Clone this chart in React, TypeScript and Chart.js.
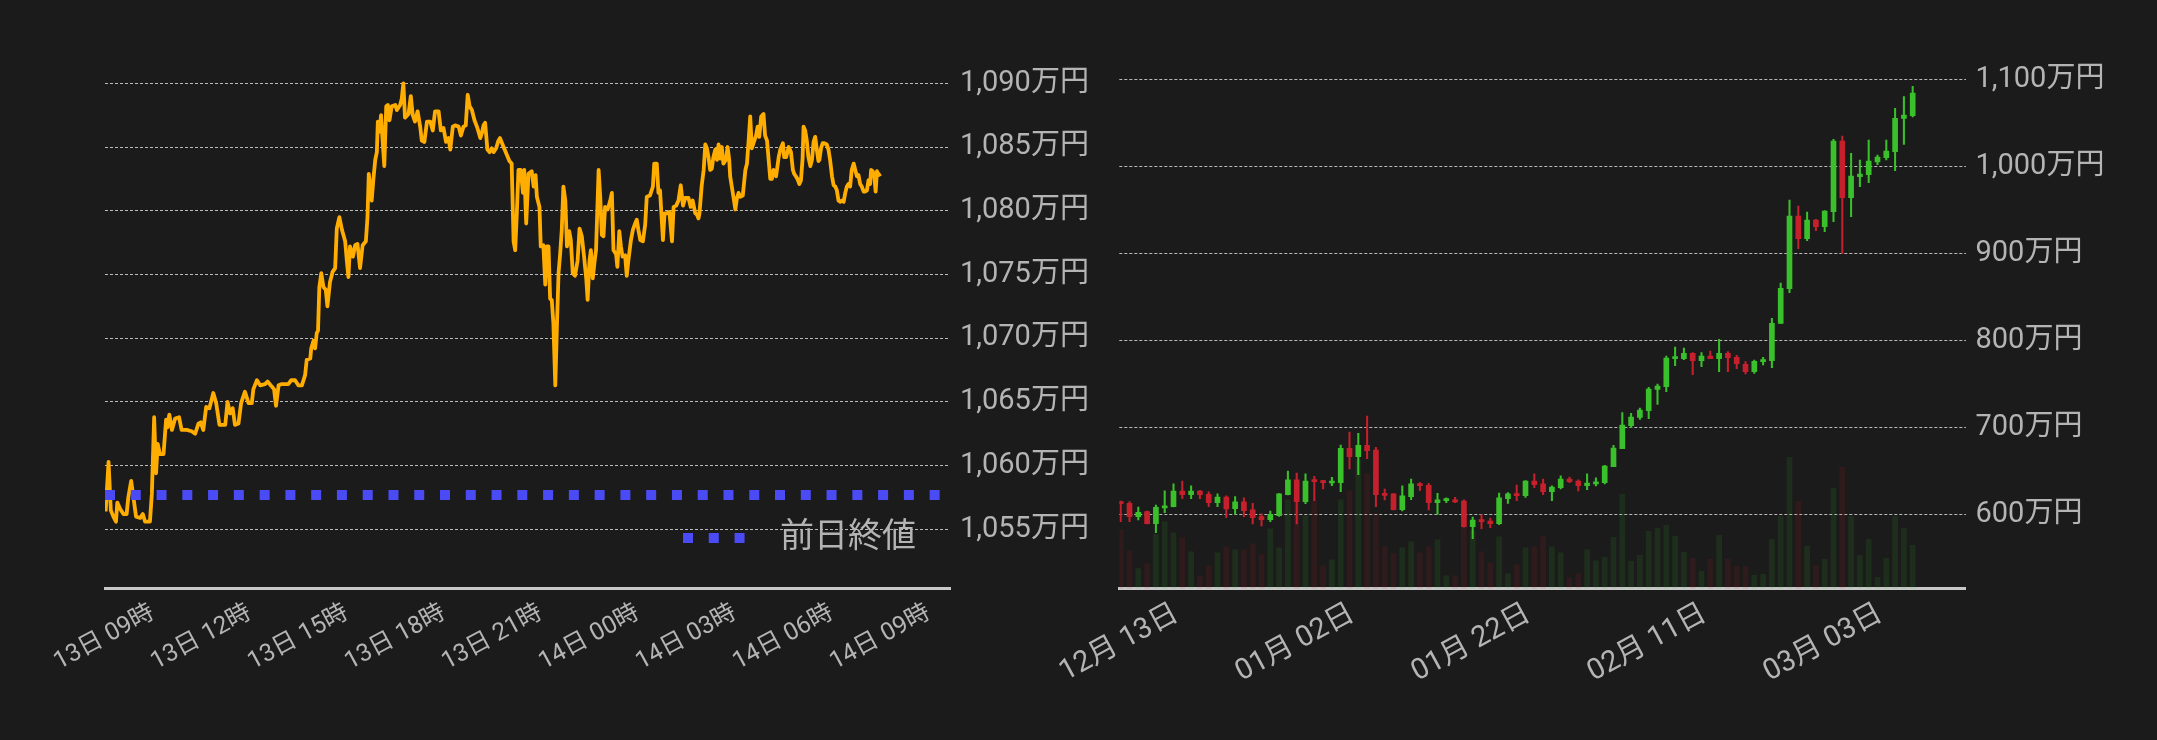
import React, { useEffect, useRef } from 'react';
import { Chart, registerables } from 'chart.js';

Chart.register(...registerables);

const FONT = 'Roboto, "Noto Sans CJK JP", sans-serif';
const TEXT_COLOR = '#b4b4b4';
const GRID_COLOR = 'rgba(215,215,215,0.85)';
const AXIS_COLOR = '#c8c8c8';
const BG = '#1b1b1b';
const ORANGE = '#ffad00';
const BLUE = '#4b4bf5';
const GREEN = 'rgb(58,192,42)';
const RED = 'rgb(198,32,44)';
const GREEN_VOL = 'rgba(58,192,42,0.12)';
const RED_VOL = 'rgba(198,32,44,0.12)';

// ---------- left chart: 24h price (hours counted from 13日 00時) ----------
const PRICE_HOURS = [
  8.00, 8.09, 8.16, 8.24, 8.32, 8.36, 8.45, 8.55, 8.65, 8.70, 8.79, 8.86, 8.94, 9.07, 9.15, 9.22, 9.37, 9.43, 9.50, 9.56,
  9.61, 9.68, 9.79, 9.87, 9.91, 9.97, 10.05, 10.15, 10.27, 10.35, 10.51, 10.66, 10.77, 10.87, 10.94, 11.02, 11.11, 11.21, 11.33, 11.42,
  11.52, 11.70, 11.77, 11.85, 11.93, 12.00, 12.11, 12.19, 12.31, 12.42, 12.52, 12.57, 12.68, 12.78, 12.93, 13.01, 13.14, 13.21, 13.27, 13.35,
  13.45, 13.65, 13.74, 13.86, 13.96, 14.07, 14.17, 14.22, 14.33, 14.36, 14.43, 14.48, 14.53, 14.57, 14.61, 14.67, 14.74, 14.81, 14.86, 14.94,
  15.02, 15.10, 15.15, 15.23, 15.31, 15.41, 15.46, 15.51, 15.56, 15.65, 15.72, 15.79, 15.87, 15.95, 16.05, 16.10, 16.14, 16.18, 16.23, 16.28,
  16.34, 16.39, 16.42, 16.47, 16.52, 16.57, 16.62, 16.68, 16.73, 16.78, 16.85, 16.96, 17.01, 17.11, 17.16, 17.21, 17.26, 17.37, 17.44, 17.50,
  17.57, 17.65, 17.73, 17.78, 17.86, 17.94, 18.04, 18.12, 18.19, 18.30, 18.37, 18.45, 18.53, 18.61, 18.66, 18.74, 18.81, 18.92, 18.99, 19.07,
  19.14, 19.20, 19.26, 19.33, 19.41, 19.50, 19.59, 19.64, 19.69, 19.74, 19.81, 19.88, 19.95, 20.00, 20.08, 20.15, 20.20, 20.31, 20.41, 20.49,
  20.56, 20.62, 20.67, 20.72, 20.77, 20.84, 20.91, 20.95, 21.01, 21.08, 21.18, 21.24, 21.30, 21.34, 21.42, 21.46, 21.54, 21.60, 21.65, 21.70,
  21.75, 21.80, 21.85, 21.91, 21.96, 22.01, 22.06, 22.11, 22.16, 22.22, 22.27, 22.34, 22.39, 22.45, 22.52, 22.60, 22.66, 22.73, 22.80, 22.87,
  22.91, 22.97, 23.01, 23.07, 23.12, 23.17, 23.25, 23.30, 23.35, 23.40, 23.45, 23.53, 23.61, 23.66, 23.71, 23.79, 23.83, 23.89, 23.94, 23.99,
  24.07, 24.12, 24.17, 24.25, 24.31, 24.38, 24.43, 24.48, 24.54, 24.62, 24.69, 24.74, 24.84, 24.93, 24.97, 25.05, 25.10, 25.15, 25.24, 25.29,
  25.36, 25.44, 25.52, 25.57, 25.65, 25.72, 25.79, 25.86, 25.93, 26.03, 26.10, 26.16, 26.24, 26.29, 26.34, 26.37, 26.44, 26.50, 26.55, 26.60,
  26.65, 26.70, 26.75, 26.80, 26.86, 26.91, 26.96, 27.01, 27.06, 27.11, 27.19, 27.24, 27.29, 27.32, 27.37, 27.42, 27.48, 27.53, 27.58, 27.63,
  27.71, 27.79, 27.84, 27.89, 27.94, 27.99, 28.04, 28.12, 28.17, 28.22, 28.28, 28.35, 28.40, 28.46, 28.51, 28.56, 28.61, 28.66, 28.74, 28.82,
  28.87, 28.95, 28.99, 29.05, 29.13, 29.20, 29.26, 29.30, 29.35, 29.40, 29.46, 29.51, 29.56, 29.59, 29.64, 29.69, 29.74, 29.80, 29.85, 29.90,
  29.95, 30.00, 30.05, 30.08, 30.13, 30.18, 30.23, 30.31, 30.36, 30.41, 30.47, 30.52, 30.57, 30.62, 30.67, 30.72, 30.78, 30.83, 30.88, 30.93,
  30.98, 31.03, 31.08, 31.14, 31.19, 31.24, 31.29, 31.34, 31.39, 31.45, 31.50, 31.55, 31.60, 31.65, 31.68, 31.73, 31.78, 31.82, 31.86, 31.91,
  31.98,
];
const PRICE_VALUES = [
  1056.4, 1060.3, 1056.5, 1056.0, 1055.6, 1057.1, 1056.6, 1056.2, 1056.2, 1057.5, 1058.8, 1057.5, 1056.0, 1055.9, 1056.2, 1055.6, 1055.6, 1057.8, 1063.8, 1059.4,
  1061.7, 1060.9, 1060.9, 1063.6, 1063.0, 1064.0, 1062.8, 1063.7, 1063.8, 1062.8, 1062.8, 1062.7, 1062.5, 1063.3, 1063.4, 1062.8, 1064.6, 1064.5, 1065.7, 1064.9,
  1063.2, 1063.2, 1065.0, 1064.1, 1064.5, 1063.2, 1063.3, 1064.9, 1065.8, 1064.9, 1064.9, 1066.0, 1066.7, 1066.3, 1066.4, 1066.6, 1066.2, 1066.0, 1064.7, 1066.3,
  1066.4, 1066.4, 1066.7, 1066.7, 1066.3, 1066.3, 1067.1, 1068.3, 1068.4, 1069.2, 1069.8, 1069.2, 1070.4, 1070.6, 1074.0, 1075.1, 1074.0, 1073.8, 1072.5, 1074.4,
  1075.2, 1075.5, 1078.6, 1079.5, 1078.5, 1077.6, 1076.1, 1074.8, 1077.2, 1076.4, 1077.3, 1077.4, 1075.5, 1077.3, 1077.6, 1079.5, 1082.9, 1081.9, 1080.8, 1082.4,
  1084.0, 1084.6, 1087.0, 1086.2, 1087.5, 1085.4, 1083.5, 1088.2, 1088.3, 1087.1, 1088.2, 1088.3, 1087.9, 1088.3, 1088.8, 1090.0, 1087.3, 1087.6, 1089.0, 1087.5,
  1087.0, 1087.8, 1086.6, 1085.5, 1085.4, 1087.0, 1087.0, 1086.3, 1087.8, 1087.8, 1086.3, 1086.5, 1085.4, 1085.7, 1084.8, 1086.6, 1086.7, 1086.6, 1085.9, 1086.6,
  1086.7, 1089.1, 1088.2, 1087.9, 1087.1, 1086.5, 1085.7, 1086.1, 1086.7, 1086.9, 1084.8, 1084.6, 1084.9, 1084.6, 1084.9, 1085.5, 1085.7, 1085.0, 1084.4, 1083.9,
  1083.7, 1077.6, 1076.9, 1079.8, 1083.2, 1083.2, 1081.4, 1083.2, 1079.0, 1082.9, 1083.1, 1081.9, 1082.8, 1081.1, 1080.3, 1077.2, 1077.3, 1074.2, 1077.2, 1077.2,
  1073.1, 1073.0, 1071.2, 1066.3, 1070.9, 1075.1, 1076.6, 1078.5, 1081.9, 1080.8, 1077.2, 1078.4, 1077.7, 1075.1, 1074.9, 1076.1, 1078.6, 1078.0, 1076.4, 1074.6,
  1073.0, 1076.1, 1076.9, 1074.7, 1075.9, 1076.9, 1083.2, 1081.1, 1078.1, 1078.0, 1080.3, 1080.1, 1080.8, 1081.4, 1076.9, 1076.6, 1075.6, 1078.4, 1077.2, 1076.4,
  1076.5, 1074.9, 1076.1, 1077.7, 1078.5, 1079.0, 1079.3, 1078.5, 1077.7, 1077.6, 1078.9, 1081.1, 1081.2, 1081.9, 1083.7, 1083.7, 1081.4, 1081.6, 1077.7, 1079.8,
  1079.8, 1079.9, 1077.6, 1080.3, 1080.4, 1080.8, 1082.0, 1080.4, 1081.0, 1081.0, 1080.3, 1080.8, 1079.8, 1079.7, 1079.4, 1079.8, 1082.0, 1083.2, 1085.2, 1084.9,
  1084.2, 1083.2, 1083.3, 1084.2, 1084.8, 1084.0, 1085.2, 1084.1, 1085.0, 1083.7, 1084.0, 1085.0, 1084.0, 1082.7, 1081.9, 1081.1, 1080.1, 1081.0, 1081.4, 1081.1,
  1081.2, 1083.2, 1083.7, 1085.5, 1087.4, 1084.9, 1085.3, 1085.9, 1086.6, 1085.8, 1087.4, 1087.6, 1085.9, 1085.5, 1084.0, 1082.5, 1082.5, 1083.2, 1082.7, 1084.2,
  1084.8, 1085.3, 1084.2, 1084.2, 1085.0, 1084.6, 1083.2, 1082.9, 1082.7, 1082.5, 1082.1, 1082.4, 1084.1, 1086.6, 1086.3, 1085.5, 1084.2, 1083.5, 1084.0, 1085.4,
  1085.8, 1084.8, 1083.9, 1084.0, 1084.9, 1085.3, 1085.3, 1085.2, 1084.8, 1084.0, 1082.7, 1082.0, 1081.9, 1081.6, 1080.8, 1080.7, 1080.8, 1080.7, 1081.4, 1081.9,
  1082.1, 1081.9, 1083.2, 1083.7, 1083.2, 1082.7, 1082.8, 1082.1, 1081.9, 1081.5, 1081.5, 1081.6, 1082.4, 1082.1, 1083.2, 1083.1, 1082.7, 1081.5, 1083.1, 1082.8,
  1082.9,
];
const PREV_CLOSE = 1057.7;
const PREV_CLOSE_LABEL = '前日終値';
const LEFT_X_MIN = 7.98;
const LEFT_X_MAX = 34.12;
const LEFT_Y_MIN = 1050.35;
const LEFT_Y_MAX = 1091.0;
const LEFT_TICK_HOURS = [9, 12, 15, 18, 21, 24, 27, 30, 33];
const LEFT_TICK_LABELS = ['13日 09時', '13日 12時', '13日 15時', '13日 18時', '13日 21時', '14日 00時', '14日 03時', '14日 06時', '14日 09時'];
const LEFT_Y_TICKS = [1055, 1060, 1065, 1070, 1075, 1080, 1085, 1090];

// ---------- right chart: daily candles (万円) ----------
const CANDLE_OPEN = [
  614.6, 612.6, 597.3, 603.1, 589.3, 607.3, 608.8, 626.8, 622.6, 626.8, 623.0, 613.4, 619.9, 606.5, 614.2, 605.0, 597.3, 593.9, 598.5, 622.6,
  639.5, 614.6, 639.5, 638.3, 636.0, 636.4, 675.9, 666.3, 679.3, 673.9, 623.4, 623.4, 605.4, 620.3, 635.2, 633.3, 613.4, 615.7, 616.5, 615.3,
  585.8, 593.5, 592.3, 589.3, 618.0, 623.4, 621.4, 638.3, 634.9, 626.0, 630.6, 640.6, 638.3, 632.9, 634.9, 636.4, 654.7, 675.4, 701.9, 711.4,
  719.1, 743.6, 746.7, 778.9, 778.9, 785.0, 776.6, 782.0, 778.9, 785.0, 780.4, 772.4, 763.9, 775.4, 776.6, 819.5, 859.3, 942.9, 916.8, 938.3,
  930.6, 947.8, 1029.1, 963.9, 988.1, 990.4, 1004.9, 1009.9, 1016.8, 1055.1, 1058.2,
];
const CANDLE_HIGH = [
  615.3, 614.6, 608.4, 603.8, 610.7, 627.0, 634.9, 638.3, 632.6, 627.5, 625.7, 623.4, 621.1, 620.3, 618.8, 612.6, 600.4, 603.8, 623.8, 649.8,
  647.5, 646.4, 643.7, 639.1, 642.5, 679.7, 694.6, 693.1, 713.0, 677.0, 629.1, 623.8, 632.6, 640.6, 636.4, 635.6, 624.1, 618.8, 619.5, 616.5,
  596.9, 599.6, 595.8, 624.5, 624.9, 633.7, 638.7, 646.4, 640.6, 632.6, 644.1, 642.9, 639.5, 646.4, 641.8, 656.3, 679.3, 716.8, 716.0, 722.2,
  745.9, 749.8, 782.0, 792.3, 791.1, 785.8, 785.8, 787.7, 801.1, 786.9, 782.7, 775.4, 777.3, 780.4, 825.2, 865.9, 961.3, 954.4, 947.5, 939.0,
  949.0, 1031.0, 1034.8, 1014.9, 1007.2, 1030.2, 1013.0, 1030.2, 1066.6, 1080.0, 1091.8,
];
const CANDLE_LOW = [
  591.6, 591.6, 593.5, 588.9, 578.9, 601.9, 608.4, 618.0, 618.0, 618.0, 608.8, 608.8, 596.2, 600.0, 597.3, 588.9, 586.6, 591.6, 597.7, 622.2,
  588.9, 612.3, 615.7, 629.1, 632.9, 626.0, 652.1, 645.6, 664.0, 608.8, 616.5, 605.0, 603.8, 616.9, 627.2, 605.0, 600.0, 613.4, 613.4, 585.1,
  572.0, 583.5, 584.7, 588.1, 612.6, 615.7, 619.5, 630.6, 622.6, 615.7, 629.1, 636.4, 626.8, 628.3, 632.6, 634.8, 654.7, 675.4, 699.6, 709.1,
  709.9, 726.4, 741.0, 770.8, 777.7, 760.5, 769.7, 778.9, 763.9, 763.9, 767.4, 761.3, 762.0, 771.6, 768.5, 819.5, 854.7, 905.3, 914.5, 926.0,
  924.9, 936.4, 899.6, 942.1, 976.6, 981.2, 1001.9, 1007.2, 995.0, 1025.2, 1056.7,
];
const CANDLE_CLOSE = [
  612.3, 597.3, 602.3, 589.3, 608.0, 609.6, 626.8, 622.6, 626.8, 622.6, 613.4, 619.9, 606.1, 614.2, 604.2, 596.2, 593.9, 600.0, 623.4, 639.5,
  614.6, 638.3, 637.5, 636.4, 637.2, 675.9, 666.3, 679.3, 673.2, 622.6, 621.8, 605.4, 621.1, 634.9, 632.9, 613.4, 616.5, 616.9, 614.2, 585.8,
  593.5, 591.6, 589.3, 618.8, 623.4, 621.4, 638.3, 634.1, 626.0, 631.4, 640.6, 637.5, 632.9, 636.0, 637.2, 655.5, 676.2, 702.6, 711.8, 719.9,
  744.0, 747.5, 779.7, 780.0, 785.0, 776.6, 782.0, 778.9, 785.0, 780.0, 773.1, 763.9, 775.8, 777.3, 819.5, 859.7, 942.9, 916.8, 938.3, 930.6,
  948.6, 1029.1, 963.9, 988.8, 991.1, 1006.1, 1010.7, 1017.6, 1055.1, 1059.0, 1084.3,
];
const CANDLE_VOLUME = [
  587, 377, 200, 250, 540, 667, 557, 507, 367, 127, 227, 357, 417, 387, 387, 447, 340, 597, 407, 887,
  857, 727, 877, 227, 287, 887, 977, 1287, 1150, 750, 417, 350, 407, 467, 357, 417, 487, 127, 127, 610,
  577, 367, 257, 517, 147, 237, 407, 417, 527, 417, 357, 107, 147, 387, 277, 313, 513, 943, 273, 333,
  573, 603, 633, 523, 363, 303, 173, 293, 533, 293, 223, 223, 133, 143, 493, 723, 1313, 873, 423, 233,
  293, 1003, 1213, 723, 333, 493, 113, 303, 723, 603, 433,
];
const RIGHT_X_MIN = -0.16;
const RIGHT_X_MAX = 96.0;
const RIGHT_Y_MIN = 514.6;
const RIGHT_Y_MAX = 1120;
const VOLUME_AXIS_MAX = 5267;
const RIGHT_TICK_INDEX = [5, 25, 45, 65, 85];
const RIGHT_TICK_LABELS = ['12月 13日', '01月 02日', '01月 22日', '02月 11日', '03月 03日'];
const RIGHT_Y_TICKS = [600, 700, 800, 900, 1000, 1100];

const LEFT_W = 1100;
const RIGHT_LEFT = 1000;
const RIGHT_W = 2157 - RIGHT_LEFT;
const LEFT_ROTATION = 28.5;
const RIGHT_ROTATION = 28.5;

const yenLabel = (v: number) => `${Number(v).toLocaleString('en-US')}万円`;

const prevCloseLegend = {
  id: 'prevCloseLegend',
  afterDraw(chart: any) {
    const { ctx, chartArea } = chart;
    const y = chartArea.bottom - 50.5;
    const x0 = chartArea.right - 267;
    ctx.save();
    ctx.strokeStyle = BLUE;
    ctx.lineWidth = 10;
    ctx.lineCap = 'butt';
    ctx.setLineDash([10, 15.77]);
    ctx.beginPath();
    ctx.moveTo(x0, y);
    ctx.lineTo(x0 + 62, y);
    ctx.stroke();
    ctx.setLineDash([]);
    ctx.fillStyle = TEXT_COLOR;
    ctx.font = `34px ${FONT}`;
    ctx.textAlign = 'left';
    ctx.textBaseline = 'middle';
    ctx.fillText(PREV_CLOSE_LABEL, chartArea.right - 170, y);
    ctx.restore();
  },
};

function LeftChart() {
  const ref = useRef<HTMLCanvasElement | null>(null);
  useEffect(() => {
    if (!ref.current) return;
    const chart = new Chart(ref.current, {
      type: 'line',
      data: {
        datasets: [
          {
            label: PREV_CLOSE_LABEL,
            data: [
              { x: LEFT_X_MIN, y: PREV_CLOSE },
              { x: LEFT_X_MAX, y: PREV_CLOSE },
            ],
            borderColor: BLUE,
            borderWidth: 10,
            borderDash: [10, 15.77],
            borderCapStyle: 'butt',
            pointRadius: 0,
            order: 0,
          },
          {
            label: '価格',
            data: PRICE_HOURS.map((h, i) => ({ x: h, y: PRICE_VALUES[i] })),
            borderColor: ORANGE,
            borderWidth: 3.8,
            pointRadius: 0,
            tension: 0,
            borderJoinStyle: 'round',
            order: 1,
          },
        ],
      },
      options: {
        responsive: false,
        animation: false,
        devicePixelRatio: 1,
        layout: { padding: { left: 105, top: 70.56, right: 0, bottom: 0 } },
        plugins: { legend: { display: false }, tooltip: { enabled: false } },
        scales: {
          x: {
            type: 'linear',
            min: LEFT_X_MIN,
            max: LEFT_X_MAX,
            offset: false,
            grid: { display: false, drawTicks: false },
            border: { display: true, color: AXIS_COLOR, width: 3 },
            afterBuildTicks: (scale: any) => {
              scale.ticks = LEFT_TICK_HOURS.map((v) => ({ value: v }));
            },
            afterCalculateLabelRotation: (scale: any) => {
              scale.labelRotation = LEFT_ROTATION;
            },
            afterFit: (scale: any) => {
              scale.height = 740 - 588.6;
              scale.paddingLeft = 0;
              scale.paddingRight = 0;
            },
            ticks: {
              autoSkip: false,
              minRotation: LEFT_ROTATION,
              maxRotation: LEFT_ROTATION,
              padding: 10,
              labelOffset: 15,
              color: TEXT_COLOR,
              font: { family: FONT, size: 24.5 },
              callback: (_v: any, i: number) => LEFT_TICK_LABELS[i],
            },
          },
          y: {
            type: 'linear',
            position: 'right',
            min: LEFT_Y_MIN,
            max: LEFT_Y_MAX,
            grid: { color: GRID_COLOR, lineWidth: 1, drawTicks: false },
            border: { display: false, dash: [3, 2] },
            afterBuildTicks: (scale: any) => {
              scale.ticks = LEFT_Y_TICKS.map((v) => ({ value: v }));
            },
            afterFit: (scale: any) => {
              scale.width = LEFT_W - 950;
              scale.paddingTop = 0;
              scale.paddingBottom = 0;
            },
            ticks: {
              padding: 10,
              color: TEXT_COLOR,
              font: { family: FONT, size: 29 },
              callback: (v: any) => yenLabel(v),
            },
          },
        },
      },
      plugins: [prevCloseLegend],
    } as any);
    return () => chart.destroy();
  }, []);
  return (
    <canvas
      ref={ref}
      width={LEFT_W}
      height={740}
      style={{ position: 'absolute', left: 0, top: 0, width: LEFT_W, height: 740 }}
    />
  );
}

function RightChart() {
  const ref = useRef<HTMLCanvasElement | null>(null);
  useEffect(() => {
    if (!ref.current) return;
    const up = CANDLE_CLOSE.map((c, i) => c >= CANDLE_OPEN[i]);
    const candleColors = up.map((u) => (u ? GREEN : RED));
    const volColors = up.map((u) => (u ? GREEN_VOL : RED_VOL));
    const chart = new Chart(ref.current, {
      type: 'bar',
      data: {
        datasets: [
          {
            label: '実体',
            data: CANDLE_OPEN.map((o, i) => ({ x: i, y: [o, CANDLE_CLOSE[i]] })),
            backgroundColor: candleColors,
            borderWidth: 0,
            barThickness: 5,
            minBarLength: 2,
            grouped: false,
            yAxisID: 'y',
            order: 1,
          },
          {
            label: 'ヒゲ',
            data: CANDLE_LOW.map((l, i) => ({ x: i, y: [l, CANDLE_HIGH[i]] })),
            backgroundColor: candleColors,
            borderWidth: 0,
            barThickness: 1.4,
            grouped: false,
            yAxisID: 'y',
            order: 2,
          },
          {
            label: '出来高',
            data: CANDLE_VOLUME.map((v, i) => ({ x: i, y: v })),
            backgroundColor: volColors,
            borderWidth: 0,
            barThickness: 5,
            grouped: false,
            yAxisID: 'yVol',
            order: 3,
          },
        ],
      },
      options: {
        responsive: false,
        animation: false,
        devicePixelRatio: 1,
        layout: { padding: { left: 1119.3 - RIGHT_LEFT, top: 61.9, right: 0, bottom: 0 } },
        plugins: { legend: { display: false }, tooltip: { enabled: false } },
        scales: {
          x: {
            type: 'linear',
            min: RIGHT_X_MIN,
            max: RIGHT_X_MAX,
            offset: false,
            grid: { display: false, drawTicks: false, offset: false },
            border: { display: true, color: AXIS_COLOR, width: 3 },
            afterBuildTicks: (scale: any) => {
              scale.ticks = RIGHT_TICK_INDEX.map((v) => ({ value: v }));
            },
            afterCalculateLabelRotation: (scale: any) => {
              scale.labelRotation = RIGHT_ROTATION;
            },
            afterFit: (scale: any) => {
              scale.height = 740 - 588.6;
              scale.paddingLeft = 0;
              scale.paddingRight = 0;
            },
            ticks: {
              autoSkip: false,
              minRotation: RIGHT_ROTATION,
              maxRotation: RIGHT_ROTATION,
              padding: 8.5,
              labelOffset: 12,
              color: TEXT_COLOR,
              font: { family: FONT, size: 29 },
              callback: (_v: any, i: number) => RIGHT_TICK_LABELS[i],
            },
          },
          y: {
            type: 'linear',
            position: 'right',
            min: RIGHT_Y_MIN,
            max: RIGHT_Y_MAX,
            grid: { color: GRID_COLOR, lineWidth: 1, drawTicks: false },
            border: { display: false, dash: [3, 2] },
            afterBuildTicks: (scale: any) => {
              scale.ticks = RIGHT_Y_TICKS.map((v) => ({ value: v }));
            },
            afterFit: (scale: any) => {
              scale.width = RIGHT_W - (1965.5 - RIGHT_LEFT);
              scale.paddingTop = 0;
              scale.paddingBottom = 0;
            },
            ticks: {
              padding: 10,
              color: TEXT_COLOR,
              font: { family: FONT, size: 29 },
              callback: (v: any) => yenLabel(v),
            },
          },
          yVol: {
            type: 'linear',
            display: false,
            min: 0,
            max: VOLUME_AXIS_MAX,
          },
        },
      },
    } as any);
    return () => chart.destroy();
  }, []);
  return (
    <canvas
      ref={ref}
      width={RIGHT_W}
      height={740}
      style={{ position: 'absolute', left: RIGHT_LEFT, top: 0, width: RIGHT_W, height: 740 }}
    />
  );
}

export default function App() {
  return (
    <div
      style={{
        position: 'fixed',
        left: 0,
        top: 0,
        width: 2157,
        height: 740,
        background: BG,
        overflow: 'hidden',
      }}
    >
      <LeftChart />
      <RightChart />
    </div>
  );
}
